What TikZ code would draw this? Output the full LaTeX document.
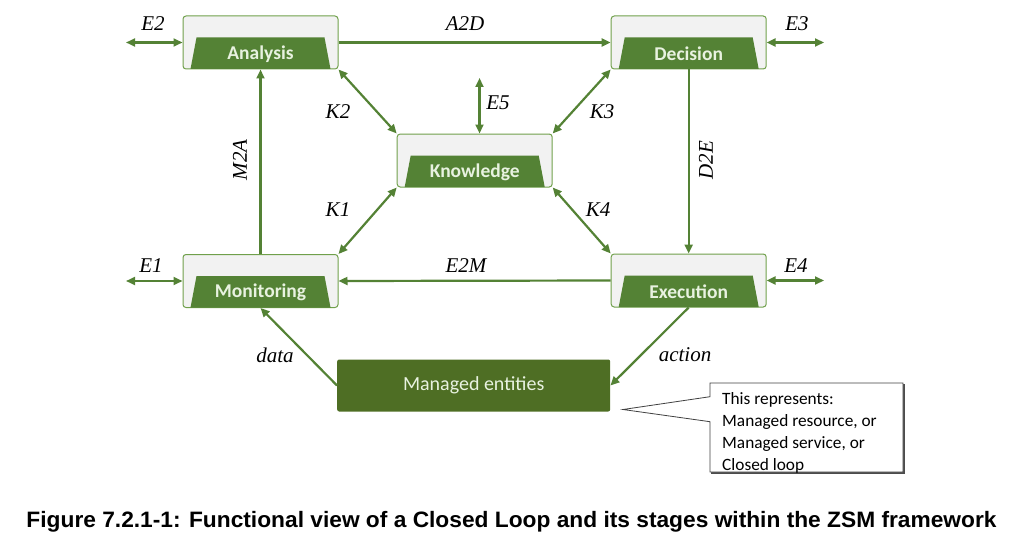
\documentclass[tikz,border=0pt]{standalone}
\usepackage{fontspec}
\usepackage{graphicx}
\usetikzlibrary{arrows.meta,calc}
\newfontfamily\calfont{Carlito}
\newfontfamily\serfont{Liberation Serif}
\newfontfamily\arfont{Liberation Sans}
\definecolor{lgreen}{RGB}{84,130,53}
\definecolor{bgreen}{RGB}{112,160,75}
\definecolor{dgreen}{RGB}{78,110,36}
\definecolor{boxgray}{RGB}{242,242,242}
\definecolor{ltext}{RGB}{232,242,224}
\newcommand\mystage[4]{%
  \node[stagebox] (#1) at (#2,#3) {};
  \fill[trap] ([xshift=14pt,yshift=-22pt]#1.north west) -- ([xshift=-14pt,yshift=-22pt]#1.north east)
     -- ([xshift=-8pt,yshift=0.5pt]#1.south east) -- ([xshift=8pt,yshift=0.5pt]#1.south west) -- cycle;
  \node[stagelabel] (#1-l) at ([yshift=15.5pt]#1.south) {#4};
}
\begin{document}
\begin{tikzpicture}[x=1pt,y=-1pt,
  stagebox/.style={draw=bgreen, line width=1pt, fill=boxgray, rounded corners=3pt,
     minimum width=155pt, minimum height=53pt, inner sep=0pt},
  trap/.style={fill=lgreen},
  stagelabel/.style={text=ltext, font=\calfont\bfseries\fontsize{19.5}{22}\selectfont, inner sep=0pt},
  conn/.style={draw=lgreen, line width=2.2pt, -{Triangle[length=9pt,width=8pt]}},
  dconn/.style={draw=lgreen, line width=2.2pt, {Triangle[length=9pt,width=8pt]}-{Triangle[length=9pt,width=8pt]}},
  lab/.style={font=\serfont\itshape\fontsize{21}{24}\selectfont, inner sep=0pt}]
\useasboundingbox (0,0) rectangle (1013,535);

\mystage{ana}{260.5}{42.5}{Analysis}
\mystage{dec}{688.7}{42.5}{Decision}
\mystage{mon}{260.5}{281}{Monitoring}
\mystage{exe}{688.7}{280.5}{Execution}
\mystage{kno}{474.7}{160.5}{Knowledge}

\node[fill=dgreen, rounded corners=2pt, minimum width=273pt, minimum height=52pt, inner sep=0pt,
  text=ltext, font=\calfont\fontsize{20}{24}\selectfont] (me) at (473.7,385.5) {Managed entities};

% free ends
\coordinate (e2end) at (126,42.5);
\coordinate (e3end) at (824,42.5);
\coordinate (e1end) at (126,281);
\coordinate (e4end) at (824,280.5);
\coordinate (e5end) at (479.5,78);

\draw[dconn] (e2end) -- (ana.west);
\draw[dconn] (dec.east) -- (e3end);
\draw[dconn] (e1end) -- (mon.west);
\draw[dconn] (exe.east) -- (e4end);
\draw[dconn] (e5end) -- (e5end |- kno.north);

\draw[conn] (ana.east) -- (dec.west);
\draw[conn] (exe.west) -- (mon.east);
\draw[conn] (mon.north) -- (ana.south);
\draw[conn] (dec.south) -- (exe.north);

\draw[dconn] (ana.south east) -- (kno.north west);
\draw[dconn] (dec.south west) -- (kno.north east);
\draw[dconn] (mon.north east) -- (kno.south west);
\draw[dconn] (exe.north west) -- (kno.south east);

\draw[conn] (me.west) -- (mon.south);
\draw[conn] (exe.south) -- (me.east);

% labels
\node[lab] (lE2) at (153,24) {E2};
\node[lab] (lA2D) at (465,24) {A2D};
\node[lab] (lE3) at (797,24) {E3};
\node[lab] (lE5) at (498,103) {E5};
\node[lab] (lK2) at (338,112) {K2};
\node[lab] (lK3) at (602,112) {K3};
\node[lab, rotate=90] (lM2A) at (240,160) {M2A};
\node[lab, rotate=90] (lD2E) at (706,160) {D2E};
\node[lab] (lK1) at (338,210) {K1};
\node[lab] (lK4) at (598,210) {K4};
\node[lab] (lE1) at (151,266) {E1};
\node[lab] (lE2M) at (466,266) {E2M};
\node[lab] (lE4) at (796,266) {E4};
\node[lab] (ldata) at (275,355) {data};
\node[lab] (laction) at (685,355) {action};

% callout
\draw[black!70, line width=1.6pt] (904,384) -- (904,473) -- (711,473);
\draw[draw=black!75, line width=0.8pt, fill=white] (710,383) -- (903,383) -- (903,472) -- (710,472)
   -- (710,421.7) -- (623,409.5) -- (710,396.7) -- cycle;
\node[anchor=west, align=left, inner sep=0pt, font=\calfont\fontsize{17.3}{22}\selectfont] (ct) at (722,433)
  {This represents:\\Managed resource, or\\Managed service, or\\Closed loop};

% caption
\node[inner sep=0pt, font=\arfont\bfseries\fontsize{22.3}{24}\selectfont] (cap) at (511.5,521.5)
  {\resizebox{970pt}{\height}{Figure 7.2.1-1: Functional view of a Closed Loop and its stages within the ZSM framework}};
\end{tikzpicture}
\end{document}
